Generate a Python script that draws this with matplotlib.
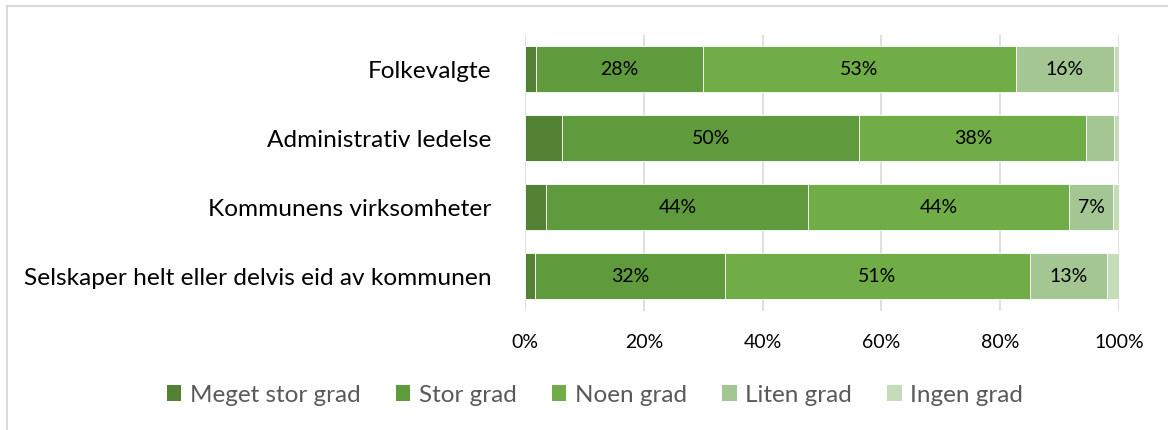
import matplotlib
matplotlib.use("Agg")
import matplotlib.pyplot as plt
from matplotlib.patches import Patch
from matplotlib.lines import Line2D

plt.rcParams['font.family'] = ['Lato', 'DejaVu Sans']

categories = ["Folkevalgte", "Administrativ ledelse", "Kommunens virksomheter",
              "Selskaper helt eller delvis eid av kommunen"]
series_names = ["Meget stor grad", "Stor grad", "Noen grad", "Liten grad", "Ingen grad"]
meget = [1.8, 6.3, 3.6, 1.7]
stor = [28.1, 50.0, 44.1, 31.9]
noen = [52.8, 38.2, 43.9, 51.4]
liten = [16.4, 4.6, 7.4, 12.9]
ingen = [0.9, 0.9, 1.0, 2.1]
colors = ["#548235", "#5F9A3C", "#70AD47", "#A3C692", "#C5DCB8"]
xticks = [0, 20, 40, 60, 80, 100]
xticklabels = ["0%", "20%", "40%", "60%", "80%", "100%"]

W, H = 1168, 430
fig = plt.figure(figsize=(W / 100, H / 100), dpi=100)
ax = fig.add_axes([525 / W, 1 - 310.5 / H, (1119 - 525) / W, (310.5 - 35) / H])

series = [meget, stor, noen, liten, ingen]
ypos = list(range(len(categories)))
left = [0.0] * len(categories)
for name, vals, col in zip(series_names, series, colors):
    bars = ax.barh(ypos, vals, left=left, height=0.667, color=col,
                   edgecolor="white", linewidth=0.6, label=name, zorder=3)
    for b, v, l in zip(bars, vals, left):
        if v >= 7:
            ax.text(l + v / 2, b.get_y() + b.get_height() / 2, f"{round(v)}%",
                    ha="center", va="center", fontsize=14, color="black", zorder=4)
    left = [a + b for a, b in zip(left, vals)]

ax.set_xlim(0, 100)
ax.set_ylim(len(categories) - 0.5, -0.5)
ax.set_yticks(ypos)
ax.set_yticklabels(categories, fontsize=17.6, color="black")
ax.set_xticks(xticks)
ax.set_xticklabels(xticklabels, fontsize=14, color="black")
ax.tick_params(axis="both", length=0)
ax.tick_params(axis="y", pad=24)
ax.tick_params(axis="x", pad=17)
for s in ax.spines.values():
    s.set_visible(False)
ax.grid(axis="x", color="#D9D9D9", linewidth=1.2, zorder=0)
ax.set_axisbelow(True)

handles = [Patch(facecolor=c, edgecolor="none") for c in colors]
leg = fig.legend(handles, series_names, loc="center", bbox_to_anchor=(595 / W, 1 - 395 / H),
                 ncol=5, frameon=False, fontsize=17.5, handlelength=0.6, handleheight=0.6,
                 handletextpad=0.35, columnspacing=1.45)
for t in leg.get_texts():
    t.set_color("#595959")

# chart frame
fig.add_artist(Line2D([7 / W, 7 / W], [0, 1 - 6 / H], transform=fig.transFigure,
                      color="#D9D9D9", linewidth=1.5))
fig.add_artist(Line2D([7 / W, 1], [1 - 6 / H, 1 - 6 / H], transform=fig.transFigure,
                      color="#D9D9D9", linewidth=1.5))

fig.savefig("out.png", dpi=100)
